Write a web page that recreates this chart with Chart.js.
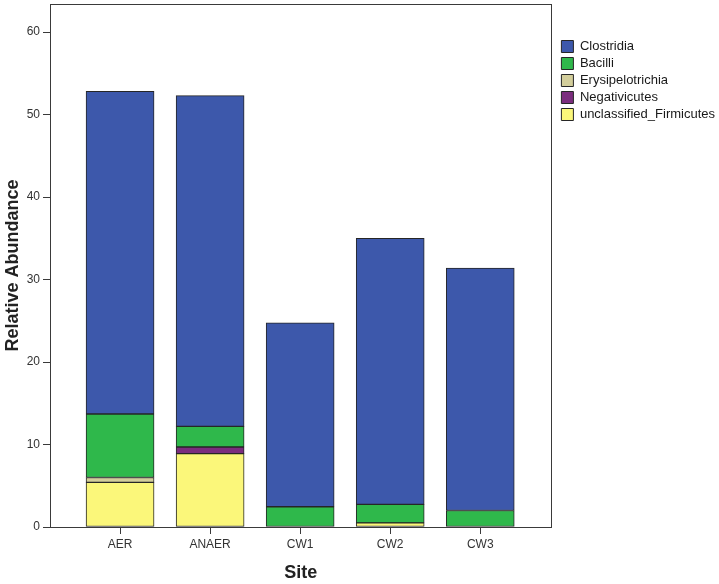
<!DOCTYPE html>
<html>
<head>
<meta charset="utf-8">
<script src="https://cdn.jsdelivr.net/npm/chart.js@4/dist/chart.umd.min.js"></script>
<style>
  html, body { margin: 0; padding: 0; background: #ffffff; }
  #wrap { width: 719px; height: 584px; }
</style>
</head>
<body>
<div id="wrap"><canvas id="c" width="719" height="584"></canvas></div>
<script>
// ---- Data ----
const sites = ["AER", "ANAER", "CW1", "CW2", "CW3"];
const unclassifiedFirmicutes = [5.4, 8.9, 0, 0.5, 0];
const negativicutes = [0, 0.8, 0, 0, 0];
const erysipelotrichia = [0.6, 0, 0, 0, 0];
const bacilli = [7.7, 2.5, 2.45, 2.25, 2.0];
const clostridia = [39.1, 40.1, 22.3, 32.25, 29.4];
const yTicks = [0, 10, 20, 30, 40, 50, 60];

Chart.defaults.font.family = 'Arial, "Liberation Sans", sans-serif';
Chart.defaults.color = '#333333';

const toPoints = arr => arr.map((v, i) => ({ x: i, y: v }));
const border = '#262626';

const mkSet = (label, arr, color) => ({
  label: label,
  data: toPoints(arr),
  backgroundColor: color,
  borderColor: border,
  borderWidth: 1,
  borderSkipped: false,
  barThickness: 68
});

const framePlugin = {
  id: 'frame',
  afterLayout(chart) {
    // small gap between the plot frame and the legend
    if (chart.legend) { chart.legend.left += 6; chart.legend.right += 6; }
  },
  afterDraw(chart) {
    const a = chart.chartArea;
    const ctx = chart.ctx;
    ctx.save();
    ctx.strokeStyle = '#3a3a3a';
    ctx.lineWidth = 1;
    ctx.strokeRect(Math.round(a.left) + 0.5, Math.round(a.top) + 0.5,
                   Math.round(a.right - a.left), Math.round(a.bottom - a.top));
    ctx.restore();
  }
};

new Chart(document.getElementById('c'), {
  type: 'bar',
  data: {
    datasets: [
      mkSet('unclassified_Firmicutes', unclassifiedFirmicutes, '#FBF77A'),
      mkSet('Negativicutes', negativicutes, '#7B2D7E'),
      mkSet('Erysipelotrichia', erysipelotrichia, '#D3CE9B'),
      mkSet('Bacilli', bacilli, '#2FB84B'),
      mkSet('Clostridia', clostridia, '#3D58AB')
    ]
  },
  options: {
    responsive: false,
    animation: false,
    devicePixelRatio: 1,
    layout: { padding: { left: 0, right: 0, top: 4, bottom: 0 } },
    plugins: {
      tooltip: { enabled: false },
      legend: {
        position: 'right',
        align: 'start',
        reverse: true,
        title: { display: true, text: ' ', font: { size: 12 }, padding: { top: 17.6, bottom: 0 } },
        labels: {
          boxWidth: 12,
          boxHeight: 12,
          padding: 4,
          color: '#1a1a1a',
          font: { size: 13 }
        }
      }
    },
    scales: {
      x: {
        type: 'linear',
        stacked: true,
        min: -0.778,
        max: 4.79,
        offset: false,
        afterBuildTicks: s => { s.ticks = sites.map((_, i) => ({ value: i })); },
        afterFit: s => { s.height = 57; },
        ticks: {
          includeBounds: false,
          autoSkip: false,
          maxRotation: 0,
          padding: 3,
          color: '#333333',
          font: { size: 12 },
          callback: v => sites[v] !== undefined ? sites[v] : ''
        },
        grid: { display: true, offset: false, drawOnChartArea: false, drawTicks: true, tickLength: 7, color: '#3a3a3a' },
        border: { display: true, color: '#3a3a3a' },
        title: { display: true, text: 'Site', color: '#222222', font: { size: 18, weight: 'bold' }, padding: { top: 0, bottom: 0 } }
      },
      y: {
        stacked: true,
        min: 0,
        max: 63.4,
        afterBuildTicks: s => { s.ticks = yTicks.map(v => ({ value: v })); },
        afterFit: s => { s.width = 50; s.paddingTop = 0; s.paddingBottom = 0; },
        ticks: {
          includeBounds: false,
          padding: 3,
          color: '#333333',
          font: { size: 12 }
        },
        grid: { display: true, drawOnChartArea: false, drawTicks: true, tickLength: 7, color: '#3a3a3a' },
        border: { display: true, color: '#3a3a3a' },
        title: { display: true, text: 'Relative Abundance', color: '#222222', font: { size: 18, weight: 'bold' }, padding: { top: 2, bottom: 0 } }
      }
    }
  },
  plugins: [framePlugin]
});
</script>
</body>
</html>
